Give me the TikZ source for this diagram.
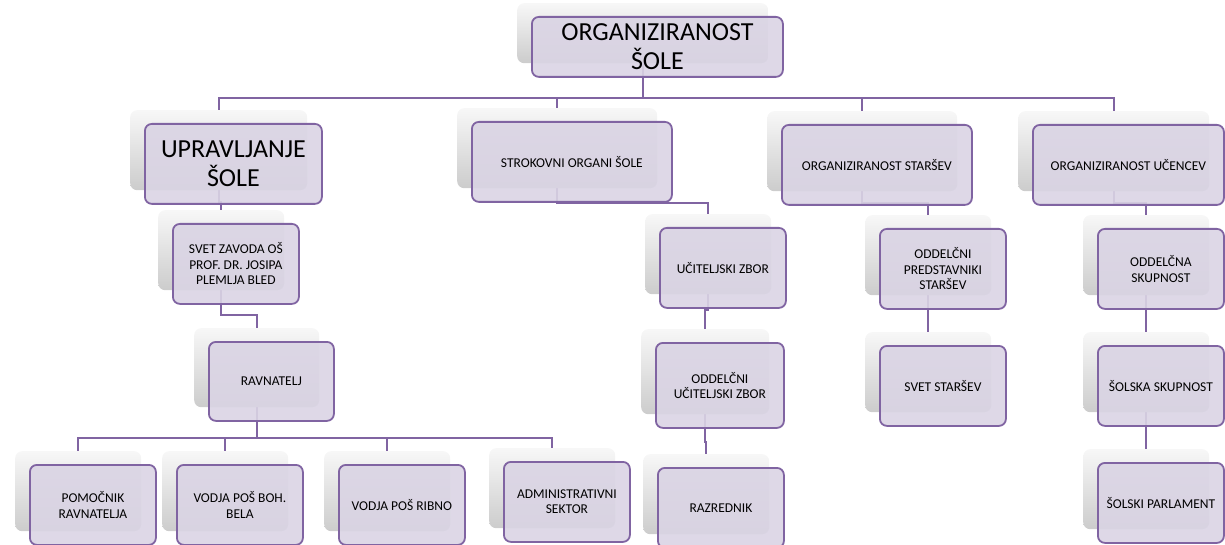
\documentclass[tikz,border=0pt]{standalone}
\usepackage{fontspec}
\setmainfont{Carlito}
\usetikzlibrary{backgrounds}
\definecolor{orgline}{RGB}{128,100,162}
\definecolor{orgfill}{RGB}{218,212,228}
\tikzset{
  backbox/.style={rounded corners=7pt, top color=black!3, bottom color=black!20, anchor=north west, inner sep=0pt},
  frontbox/.style={rounded corners=7pt, draw=orgline, line width=1.8pt, fill=orgfill, fill opacity=.9, text opacity=1, anchor=north west, align=center, inner sep=2pt},
  link/.style={draw=orgline, line width=1.8pt},
  bigtext/.style={font=\fontsize{26}{29}\selectfont},
  smalltext/.style={font=\fontsize{13.5}{15.5}\selectfont},
}

\begin{document}
\begin{tikzpicture}[x=1pt, y=-1pt, line join=round]
    \useasboundingbox (0,0) rectangle (1225,545);

    % boxes: back plate, then the framed box in front of it
    \foreach \n/\x/\y/\w/\h/\f/\txt in {
      top/517/3/251/60/bigtext/{ORGANIZIRANOST\\ŠOLE},
      upr/130/110/177/80/bigtext/{UPRAVLJANJE\\ŠOLE},
      str/457/108/200/80/smalltext/{STROKOVNI ORGANI ŠOLE},
      sta/767/111/190/80/smalltext/{ORGANIZIRANOST STARŠEV},
      uce/1018/111/191/80/smalltext/{ORGANIZIRANOST UČENCEV},
      svz/158/210/126/80/smalltext/{SVET ZAVODA OŠ\\PROF. DR. JOSIPA\\PLEMLJA BLED},
      ucz/645/214/126/80/smalltext/{UČITELJSKI ZBOR},
      ops/865/215/126/80/smalltext/{ODDELČNI\\PREDSTAVNIKI\\STARŠEV},
      osk/1083/215/126/80/smalltext/{ODDELČNA\\SKUPNOST},
      rav/194/328/125/79/smalltext/{RAVNATELJ},
      ouz/641/329/128/85/smalltext/{ODDELČNI\\UČITELJSKI ZBOR},
      svs/865/332/126/80/smalltext/{SVET STARŠEV},
      ssk/1083/332/126/80/smalltext/{ŠOLSKA SKUPNOST},
      pom/15/451/126/80/smalltext/{POMOČNIK\\RAVNATELJA},
      boh/162/451/126/80/smalltext/{VODJA POŠ BOH.\\BELA},
      rib/324/451/126/80/smalltext/{VODJA POŠ RIBNO},
      adm/489/448/126/80/smalltext/{ADMINISTRATIVNI\\SEKTOR},
      raz/643/454/126/80/smalltext/{RAZREDNIK},
      spa/1083/449/126/80/smalltext/{ŠOLSKI PARLAMENT}}
    {
    \node[backbox, minimum width=\w pt, minimum height=\h pt] (\n-b) at (\x,\y) {};
    \node[frontbox, \f, minimum width=\w pt, minimum height=\h pt] (\n) at ({\x+14},{\y+13}) {\txt};
    }

    % connectors run behind the boxes
    \begin{scope}[on background layer]
    \foreach \p/\c/\m in {top/upr/98, top/str/98, top/sta/98, top/uce/98,
      upr/svz/202, svz/rav/315, rav/pom/438, rav/boh/438, rav/rib/438, rav/adm/438,
      str/ucz/203, ucz/ouz/310, ouz/raz/442,
      sta/ops/203, ops/svs/320,
      uce/osk/203, osk/ssk/320, ssk/spa/437}
      \draw[link] (\p-b.south) -- (\p-b.south |- 0,\m) -| (\c-b.north);
    \end{scope}
\end{tikzpicture}
\end{document}
